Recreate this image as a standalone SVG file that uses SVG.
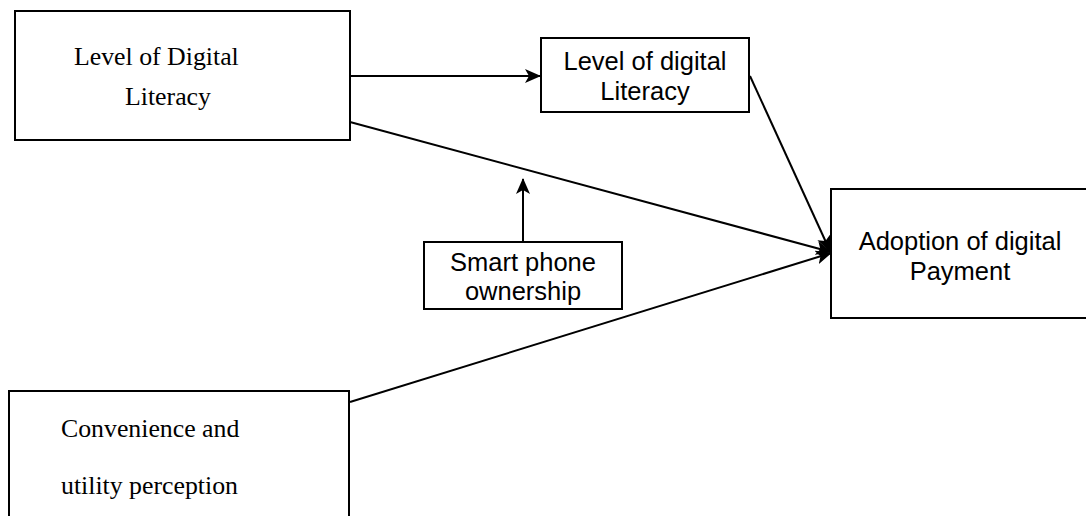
<svg xmlns="http://www.w3.org/2000/svg" width="1086" height="516" viewBox="0 0 1086 516">
<style>
.box{fill:#fff;stroke:#000;stroke-width:2}
.serif{font-family:"Liberation Serif","Times New Roman",serif;font-size:25.8px;fill:#000}
.sans{font-family:"Liberation Sans",Arial,sans-serif;font-size:25.5px;fill:#000;text-anchor:middle}
.edge{stroke:#000;stroke-width:2;fill:none;marker-end:url(#arr)}
</style>
<defs>
<marker id="arr" viewBox="0 0 16 14" refX="15" refY="7" markerWidth="16" markerHeight="14" markerUnits="userSpaceOnUse" orient="auto">
<path d="M0,0 L16,7 L0,14 L4,7 Z" fill="#000"/>
</marker>
</defs>
<rect width="1086" height="516" fill="#fff"/>
<g id="connectors">
<line class="edge" x1="350" y1="76" x2="540" y2="76"/>
<line class="edge" x1="350" y1="122" x2="831" y2="252"/>
<line class="edge" x1="750" y1="76" x2="830" y2="251"/>
<line class="edge" x1="350" y1="402" x2="831" y2="253"/>
<line class="edge" x1="523" y1="242" x2="523" y2="179"/>
</g>
<g id="n1">
<rect class="box" x="15" y="11" width="335" height="129"/>
<text class="serif" x="74" y="65">Level of Digital</text>
<text class="serif" x="125" y="105">Literacy</text>
</g>
<g id="n2">
<rect class="box" x="541" y="38" width="208" height="74"/>
<text class="sans" x="645" y="70">Level of digital</text>
<text class="sans" x="645" y="100">Literacy</text>
</g>
<g id="n3">
<rect class="box" x="831" y="189" width="256" height="129"/>
<text class="sans" x="960" y="250">Adoption of digital</text>
<text class="sans" x="960" y="280">Payment</text>
</g>
<g id="n4">
<rect class="box" x="424" y="242" width="198" height="67"/>
<text class="sans" x="523" y="271">Smart phone</text>
<text class="sans" x="523" y="300">ownership</text>
</g>
<g id="n5">
<rect class="box" x="9" y="391" width="340" height="140"/>
<text class="serif" x="61" y="437">Convenience and</text>
<text class="serif" x="61" y="494">utility perception</text>
</g>
</svg>
